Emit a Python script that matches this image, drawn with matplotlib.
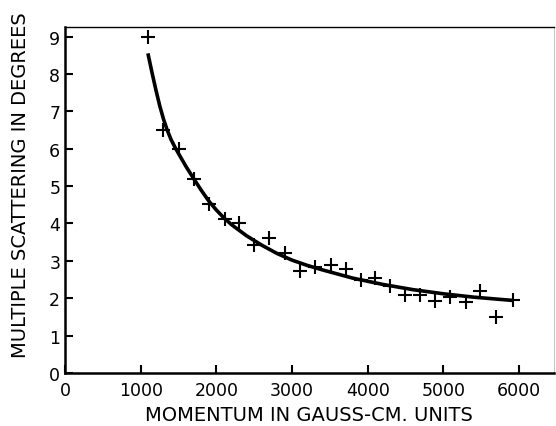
import numpy as np
import matplotlib.pyplot as plt

# measured points (momentum, scattering angle)
momentum = [1100, 1300, 1500, 1700, 1900, 2110, 2300, 2500, 2700, 2910,
            3100, 3310, 3520, 3710, 3910, 4100, 4290, 4500, 4690, 4890,
            5090, 5300, 5490, 5695, 5920]
scatter = [9.0, 6.49, 6.0, 5.18, 4.53, 4.12, 4.01, 3.42, 3.60, 3.20,
           2.74, 2.83, 2.88, 2.77, 2.48, 2.54, 2.33, 2.10, 2.10, 1.92,
           2.04, 1.90, 2.19, 1.49, 1.96]

# fitted curve
curve_x = [1095, 1150, 1200, 1250, 1300, 1350, 1400, 1450, 1500, 1600,
           1700, 1800, 1900, 2000, 2100, 2200, 2400, 2600, 2800, 3000,
           3200, 3400, 3800, 4200, 4600, 5000, 5400, 5930]
curve_y = [8.55, 8.03, 7.58, 7.16, 6.8, 6.5, 6.25, 6.05, 5.87, 5.52,
           5.2, 4.89, 4.6, 4.36, 4.15, 3.97, 3.67, 3.42, 3.2, 3.02,
           2.88, 2.76, 2.54, 2.37, 2.23, 2.12, 2.03, 1.94]

xticks = [0, 1000, 2000, 3000, 4000, 5000, 6000]
yticks = [0, 1, 2, 3, 4, 5, 6, 7, 8, 9]

fig = plt.figure(figsize=(5.56, 4.27), dpi=100)
ax = fig.add_axes([0.117, 0.124, 0.879, 0.81])

ax.plot(curve_x, curve_y, 'k-', lw=2.6, solid_capstyle='butt')
ax.plot(momentum, scatter, 'k+', ms=10, mew=1.5)

ax.set_xlim(0, 6460)
ax.set_ylim(0, 9.25)
ax.set_xticks(xticks)
ax.set_yticks(yticks)
ax.tick_params(direction='in', length=6, width=1.5, labelsize=12.5,
               top=False, right=False)
ax.tick_params(axis='x', pad=6)

for s in ['left', 'bottom']:
    ax.spines[s].set_linewidth(1.8)
ax.spines['top'].set_linewidth(1.0)
ax.spines['right'].set_linewidth(0.6)
ax.spines['right'].set_color('#bbbbbb')

ax.set_xlabel('MOMENTUM IN GAUSS-CM. UNITS', fontsize=14, labelpad=4)
ax.set_ylabel('MULTIPLE SCATTERING IN DEGREES', fontsize=14)
ax.yaxis.set_label_coords(-0.072, 0.545)

plt.savefig('out.png', dpi=100)
